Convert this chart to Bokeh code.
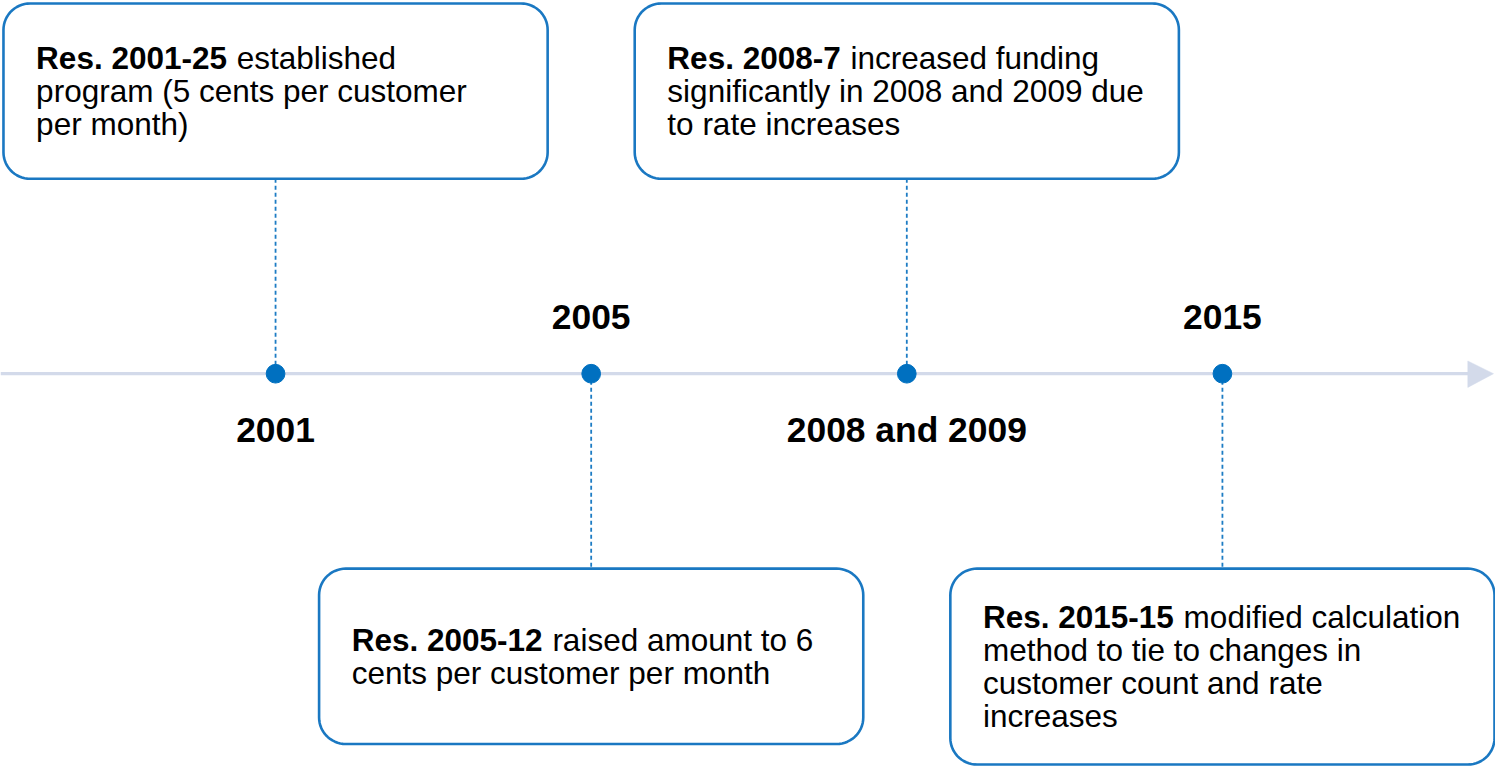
import numpy as np
from bokeh.plotting import figure
from bokeh.core.properties import value
from bokeh.embed import file_html
from bokeh.resources import INLINE

# ---- data ----
years = ["2001", "2005", "2008 and 2009", "2015"]
resolutions = ["Res. 2001-25", "Res. 2005-12", "Res. 2008-7", "Res. 2015-15"]
lead_text = ["established", "raised amount to 6", "increased funding", "modified calculation"]
more_lines = [
    ["program (5 cents per customer", "per month)"],
    ["cents per customer per month"],
    ["significantly in 2008 and 2009 due", "to rate increases"],
    ["method to tie to changes in", "customer count and rate", "increases"],
]
box_side = ["above", "below", "above", "below"]

# ---- layout ----
X0, X1 = 0, 1511
Y0, Y1 = 0, 783
W, H = 1495, 767
SX = W / (X1 - X0)
SY = H / (Y1 - Y0)
S = (SX + SY) / 2

AXIS_Y = 381
FIRST_X = 278
STEP = 319
BOX_W = 550
LINE_H = 33.5
BODY_PX = 32
YEAR_PX = 36
FONT = "Liberation Sans"
BLUE = "#0070C0"
BORDER = "#1a78c2"
AXIS_COL = "#D3DAEA"

BOLD_W = {"R": 0.722, "e": 0.556, "s": 0.556, ".": 0.278, " ": 0.278, "-": 0.333}
def bold_width(s):
    return sum(BOLD_W.get(c, 0.556) for c in s)

p = figure(width=W, height=H, x_range=(X0, X1), y_range=(Y1, Y0),
           output_backend="svg", toolbar_location=None, min_border=0,
           x_axis_type=None, y_axis_type=None, outline_line_color=None,
           background_fill_color="white", border_fill_color="white")
p.grid.visible = False

xs = [FIRST_X + STEP * i for i in range(len(years))]

# axis line and arrow head
p.line([0, 1484], [AXIS_Y, AXIS_Y], line_width=3.2, line_color=AXIS_COL)
p.patch([1483, 1509, 1483], [AXIS_Y - 13, AXIS_Y, AXIS_Y + 14],
        fill_color=AXIS_COL, line_color=AXIS_COL, line_width=0.5)

def rounded(l, t, r, b, rad):
    px, py = [], []
    corners = [(r - rad, t + rad, -90, 0), (r - rad, b - rad, 0, 90),
               (l + rad, b - rad, 90, 180), (l + rad, t + rad, 180, 270)]
    for cx, cy, a0, a1 in corners:
        ang = np.radians(np.linspace(a0, a1, 16))
        px.extend(cx + rad * np.cos(ang))
        py.extend(cy + rad * np.sin(ang))
    return px, py

boxes = []
bx, by = [], []
for i, x in enumerate(xs):
    lines = [lead_text[i]] + more_lines[i]
    n = len(lines)
    h = max(179, n * LINE_H + 66)
    if box_side[i] == "above":
        top, bot = 3, 182
        cy0, cy1 = bot, AXIS_Y
    else:
        top, bot = 580, 580 + h
        cy0, cy1 = AXIS_Y, top
    p.line([x, x], [cy0, cy1], line_width=1.8, line_color="#1d7cc4", line_dash="4 3")
    left = x - BOX_W / 2
    rx, ry = rounded(left, top, left + BOX_W, bot, 27)
    bx.append(rx); by.append(ry)
    boxes.append((left, top, bot, lines))

p.patches(bx, by, fill_color="white", line_color=BORDER, line_width=2.6)

fs = f"{BODY_PX * S:.1f}px"
for i, (left, top, bot, lines) in enumerate(boxes):
    n = len(lines)
    cy = (top + bot) / 2
    ly = [cy + (k - (n - 1) / 2) * LINE_H for k in range(n)]
    tx = left + 33
    p.text([tx], [ly[0]], text=[resolutions[i]], text_font=value(FONT),
           text_font_style="bold", text_font_size=fs,
           text_baseline="middle", text_align="left", text_color="black")
    p.text([tx + bold_width(resolutions[i] + " ") * BODY_PX], [ly[0]], text=[lines[0]],
           text_font=value(FONT), text_font_size=fs,
           text_baseline="middle", text_align="left", text_color="black")
    if n > 1:
        p.text([tx] * (n - 1), ly[1:], text=lines[1:], text_font=value(FONT),
               text_font_size=fs, text_baseline="middle",
               text_align="left", text_color="black")

# dots
p.scatter(xs, [AXIS_Y] * len(xs), size=19 * S, fill_color=BLUE, line_color=BLUE)

# year labels (opposite side of the box)
year_y = [438 if s == "above" else 323 for s in box_side]
p.text(xs, year_y, text=years, text_font=value(FONT), text_font_style="bold",
       text_font_size=f"{YEAR_PX * S:.1f}px", text_baseline="middle",
       text_align="center", text_color="black")

open("out.html", "w").write(file_html(p, INLINE))
